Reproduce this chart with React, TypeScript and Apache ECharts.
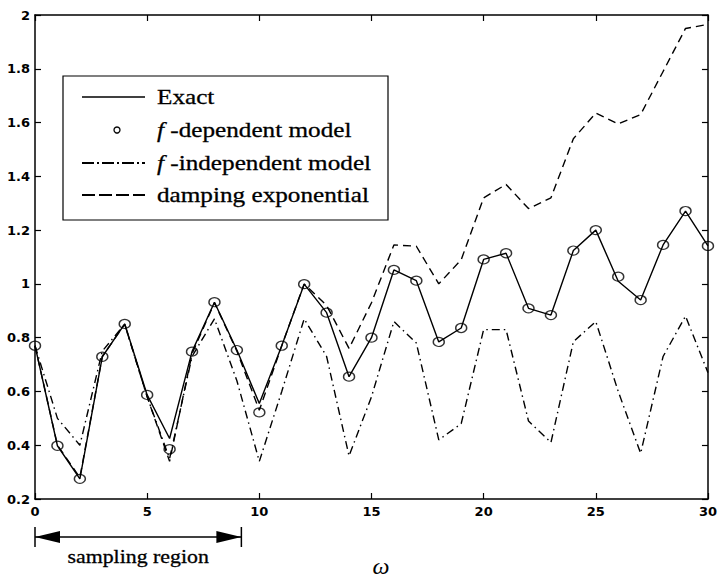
import React, { useEffect, useRef } from "react";
import * as echarts from "echarts";

const omega: number[] = Array.from({ length: 31 }, (_, i) => i);

const exactValues = [
  0.77, 0.398, 0.275, 0.729, 0.851, 0.587, 0.425, 0.748, 0.932, 0.754, 0.555,
  0.77, 0.999, 0.893, 0.655, 0.8, 1.052, 1.012, 0.784, 0.836, 1.091,
  1.114, 0.909, 0.884, 1.124, 1.2, 1.01, 0.94, 1.145, 1.271, 1.141,
];

const fDependentValues = [
  0.77, 0.398, 0.275, 0.729, 0.851, 0.587, 0.385, 0.748, 0.932, 0.754, 0.522,
  0.77, 0.999, 0.893, 0.655, 0.8, 1.052, 1.012, 0.784, 0.836, 1.091,
  1.114, 0.909, 0.884, 1.124, 1.2, 1.027, 0.94, 1.145, 1.271, 1.141,
];

const fIndependentValues = [
  0.77, 0.5, 0.4, 0.75, 0.85, 0.58, 0.35, 0.73, 0.87, 0.64, 0.34,
  0.6, 0.87, 0.73, 0.36, 0.58, 0.86, 0.78, 0.42, 0.48, 0.83,
  0.83, 0.49, 0.41, 0.785, 0.86, 0.6, 0.37, 0.73, 0.88, 0.67,
];

const dampingValues = [
  0.77, 0.4, 0.28, 0.73, 0.85, 0.58, 0.34, 0.74, 0.93, 0.75, 0.53,
  0.77, 1.0, 0.92, 0.76, 0.93, 1.145, 1.14, 1.0, 1.09, 1.32,
  1.37, 1.28, 1.32, 1.54, 1.635, 1.595, 1.63, 1.79, 1.95, 1.965,
];

const legendLabels = ["Exact", "{i|f} -dependent model", "{i|f} -independent model", "damping exponential"];
const samplingRegion: [number, number] = [0, 9.2];
const samplingLabel = "sampling region";
const xAxisTitle = "ω";

const X_MIN = 0, X_MAX = 30, X_STEP = 5;
const Y_MIN = 0.2, Y_MAX = 2, Y_STEP = 0.2;

const pairs = (vals: number[]) => omega.map((x, i) => [x, vals[i]]);

const SERIF = "'Liberation Serif', 'Times New Roman', serif";
const TICK_FONT = "'DejaVu Sans', sans-serif";

export default function App() {
  const ref = useRef<HTMLDivElement>(null);
  useEffect(() => {
    document.body.style.margin = "0";
    if (!ref.current) return;
    const chart = echarts.init(ref.current, undefined, { renderer: "svg" });
    const axisLineStyle = { color: "#000", width: 1.5 };
    const tickCommon = { show: true, inside: true, length: 6, lineStyle: { color: "#000", width: 1.2 } };
    const fmtY = (v: number) => String(Math.round(v * 10) / 10);
    chart.setOption({
      animation: false,
      backgroundColor: "#fff",
      grid: { left: 35, right: 6, top: 15, bottom: 79, containLabel: false },
      xAxis: [
        {
          type: "value", min: X_MIN, max: X_MAX, interval: X_STEP, position: "bottom",
          axisLine: { show: true, onZero: false, lineStyle: axisLineStyle },
          axisTick: tickCommon,
          splitLine: { show: false },
          axisLabel: { color: "#000", fontFamily: TICK_FONT, fontWeight: "bold", fontSize: 13, margin: 6 },
        },
        {
          type: "value", min: X_MIN, max: X_MAX, interval: X_STEP, position: "top",
          axisLine: { show: true, onZero: false, lineStyle: axisLineStyle },
          axisTick: tickCommon,
          splitLine: { show: false },
          axisLabel: { show: false },
        },
      ],
      yAxis: [
        {
          type: "value", min: Y_MIN, max: Y_MAX, interval: Y_STEP, position: "left",
          axisLine: { show: true, onZero: false, lineStyle: axisLineStyle },
          axisTick: tickCommon,
          splitLine: { show: false },
          axisLabel: { color: "#000", fontFamily: TICK_FONT, fontWeight: "bold", fontSize: 13, margin: 5, formatter: fmtY },
        },
        {
          type: "value", min: Y_MIN, max: Y_MAX, interval: Y_STEP, position: "right",
          axisLine: { show: true, onZero: false, lineStyle: axisLineStyle },
          axisTick: tickCommon,
          splitLine: { show: false },
          axisLabel: { show: false },
        },
      ],
      series: [
        {
          name: "Exact", type: "line", data: pairs(exactValues), symbol: "none",
          lineStyle: { color: "#000", width: 1.4 }, z: 3,
        },
        {
          name: "f-independent model", type: "line", data: pairs(fIndependentValues), symbol: "none",
          lineStyle: { color: "#000", width: 1.4, type: [8, 4, 1.5, 4] }, z: 2,
        },
        {
          name: "damping exponential", type: "line", data: pairs(dampingValues), symbol: "none",
          lineStyle: { color: "#000", width: 1.4, type: [8, 5] }, z: 2,
        },
        {
          name: "f-dependent model", type: "scatter", data: pairs(fDependentValues),
          symbol: "circle", symbolSize: [11, 9],
          itemStyle: { color: "rgba(255,255,255,0)", borderColor: "#000", borderWidth: 1.3 }, z: 4,
        },
      ],
    });

    const [ax0] = chart.convertToPixel({ xAxisIndex: 0, yAxisIndex: 0 }, [samplingRegion[0], Y_MIN]) as number[];
    const [ax1, yAxisPix] = chart.convertToPixel({ xAxisIndex: 0, yAxisIndex: 0 }, [samplingRegion[1], Y_MIN]) as number[];
    const arrowY = yAxisPix + 38;
    const head = 25;
    const half = 6;
    const txt = (text: string, x: number, y: number) => ({
      type: "text", x, y, scaleX: 1.2, z: 101,
      style: {
        text, fill: "#000", fontFamily: SERIF, fontSize: 21, textAlign: "left", textVerticalAlign: "middle",
        stroke: "#000", lineWidth: 0.3,
        rich: { i: { fontStyle: "italic", fontFamily: SERIF, fontSize: 21, fill: "#000" } },
      },
    });
    const rows = [97, 130, 163, 195];
    chart.setOption({
      graphic: [
        { type: "rect", shape: { x: 63, y: 76, width: 325, height: 144 }, style: { fill: "#fff", stroke: "#000", lineWidth: 1.2 }, z: 100 },
        { type: "line", shape: { x1: 82, y1: rows[0], x2: 145, y2: rows[0] }, style: { stroke: "#000", lineWidth: 1.3 }, z: 101 },
        { type: "circle", shape: { cx: 117, cy: rows[1], r: 3 }, style: { fill: "none", stroke: "#000", lineWidth: 1.3 }, z: 101 },
        { type: "line", shape: { x1: 82, y1: rows[2], x2: 145, y2: rows[2] }, style: { stroke: "#000", lineWidth: 2, lineDash: [12, 3, 2, 3] }, z: 101 },
        { type: "line", shape: { x1: 82, y1: rows[3], x2: 145, y2: rows[3] }, style: { stroke: "#000", lineWidth: 2, lineDash: [13, 4] }, z: 101 },
        ...legendLabels.map((l, i) => txt(l, 157, rows[i])),
        { type: "line", shape: { x1: ax0, y1: arrowY - 10, x2: ax0, y2: arrowY + 10 }, style: { stroke: "#000", lineWidth: 1.5 }, z: 101 },
        { type: "line", shape: { x1: ax1, y1: arrowY - 10, x2: ax1, y2: arrowY + 10 }, style: { stroke: "#000", lineWidth: 1.5 }, z: 101 },
        { type: "line", shape: { x1: ax0, y1: arrowY, x2: ax1, y2: arrowY }, style: { stroke: "#000", lineWidth: 1.3 }, z: 101 },
        { type: "polygon", shape: { points: [[ax0, arrowY], [ax0 + head, arrowY - half], [ax0 + head, arrowY + half]] }, style: { fill: "#000" }, z: 101 },
        { type: "polygon", shape: { points: [[ax1, arrowY], [ax1 - head, arrowY - half], [ax1 - head, arrowY + half]] }, style: { fill: "#000" }, z: 101 },
        {
          type: "text", x: (ax0 + ax1) / 2, y: arrowY + 20, scaleX: 1.15, z: 101,
          style: { text: samplingLabel, fill: "#000", fontFamily: SERIF, fontSize: 19, textAlign: "center", textVerticalAlign: "middle", stroke: "#000", lineWidth: 0.3 },
        },
        {
          type: "text", x: 381, y: 566, z: 101,
          style: { text: xAxisTitle, fill: "#000", fontFamily: SERIF, fontStyle: "italic", fontSize: 24, textAlign: "center", textVerticalAlign: "middle" },
        },
      ],
    });
    return () => chart.dispose();
  }, []);
  return <div ref={ref} style={{ width: 720, height: 578 }} />;
}
